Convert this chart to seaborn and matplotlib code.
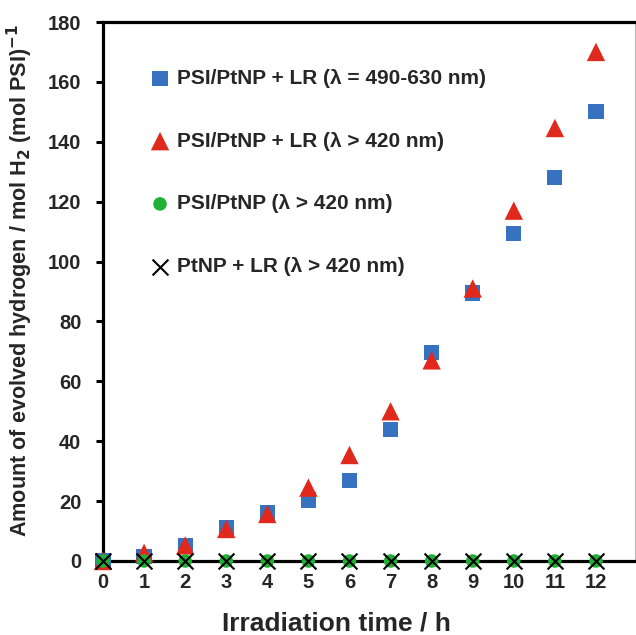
import numpy as np
import pandas as pd
import matplotlib
matplotlib.use("Agg")
import matplotlib.pyplot as plt
import seaborn as sns

# ---- data ----
hours = [0, 1, 2, 3, 4, 5, 6, 7, 8, 9, 10, 11, 12]
lr_490_630 = [0, 1.5, 5.3, 11, 16, 20.4, 27, 44, 69.5, 89.5, 109.5, 128, 150]
lr_420 = [0, 2.7, 5.2, 10.7, 15.7, 24.5, 35.4, 50, 67, 91, 117, 144.6, 170]
psi_ptnp = [0, 0, 0, 0, 0, 0, 0, 0, 0, 0, 0, 0, 0]
ptnp_lr = [0, 0, 0, 0, 0, 0, 0, 0, 0, 0, 0, 0, 0]
labels = ["PSI/PtNP + LR (\u03bb = 490-630 nm)",
          "PSI/PtNP + LR (\u03bb > 420 nm)",
          "PSI/PtNP (\u03bb > 420 nm)",
          "PtNP + LR (\u03bb > 420 nm)"]
yticks = [0, 20, 40, 60, 80, 100, 120, 140, 160, 180]

sns.set_theme(style="white")
plt.rcParams['font.family'] = ['Liberation Sans', 'DejaVu Sans']
plt.rcParams['font.weight'] = 'bold'
plt.rcParams['mathtext.fontset'] = 'custom'
plt.rcParams['mathtext.bf'] = 'Liberation Sans Narrow:bold'
plt.rcParams['mathtext.rm'] = 'Liberation Sans Narrow:bold'

fig = plt.figure(figsize=(6.36, 6.35), dpi=100)
ax = fig.add_axes([103/636, 1-561/635, 532/636, 539/635])

series = [
    (lr_490_630, labels[0], 's', '#3672bf', 120),
    (lr_420, labels[1], '^', '#e0291c', 175),
    (psi_ptnp, labels[2], 'o', '#1fb035', 95),
    (ptnp_lr, labels[3], 'x', 'black', 130),
]
for vals, lab, mk, col, sz in series:
    df = pd.DataFrame({"t": hours, "y": vals})
    if mk == 'x':
        sns.scatterplot(data=df, x="t", y="y", marker=mk, color=col, s=sz,
                        linewidth=1.5, label=lab, ax=ax, clip_on=False, zorder=5)
    else:
        sns.scatterplot(data=df, x="t", y="y", marker=mk, color=col, s=sz,
                        edgecolor='none', linewidth=0, label=lab, ax=ax,
                        clip_on=False, zorder=4)

ax.set_xlim(0, 12.95)
ax.set_ylim(0, 180)
ax.set_xticks(hours)
ax.set_xticklabels([str(h) for h in hours], fontsize=14.5, fontweight='bold')
ax.set_yticks(yticks)
ax.set_yticklabels([str(v) for v in yticks], fontsize=14.5, fontweight='bold')
ax.tick_params(axis='x', length=0, pad=9)
ax.tick_params(axis='y', direction='out', length=5, width=2.2, pad=10.5, left=True, color='black')

for s in ['top', 'left', 'bottom']:
    ax.spines[s].set_color('black')
    ax.spines[s].set_linewidth(2.3)
    ax.spines[s].set_visible(True)
ax.spines['right'].set_color('#bbbbbb')
ax.spines['right'].set_linewidth(0.8)
ax.spines['left'].set_zorder(3)
ax.spines['bottom'].set_zorder(3)

ax.set_xlabel("Irradiation time / h", fontsize=19, fontweight='bold')
ax.xaxis.set_label_coords(0.438, -0.0946)
ax.set_ylabel(r"Amount of evolved hydrogen / mol H$_\mathbf{2}$ (mol PSI)$^\mathbf{-1}$",
              fontsize=15.6, fontweight='bold',
              family=['Liberation Sans Narrow', 'Liberation Sans', 'DejaVu Sans'])
ax.yaxis.set_label_coords(-0.127, 0.521)

leg = ax.legend(loc='upper left', bbox_to_anchor=(0.0876, 0.913), frameon=False,
                handlelength=1.0, handletextpad=0.3, labelspacing=2.1,
                borderaxespad=0, borderpad=0, prop={'weight': 'bold', 'size': 15})

fig.savefig("out.png", dpi=100)
